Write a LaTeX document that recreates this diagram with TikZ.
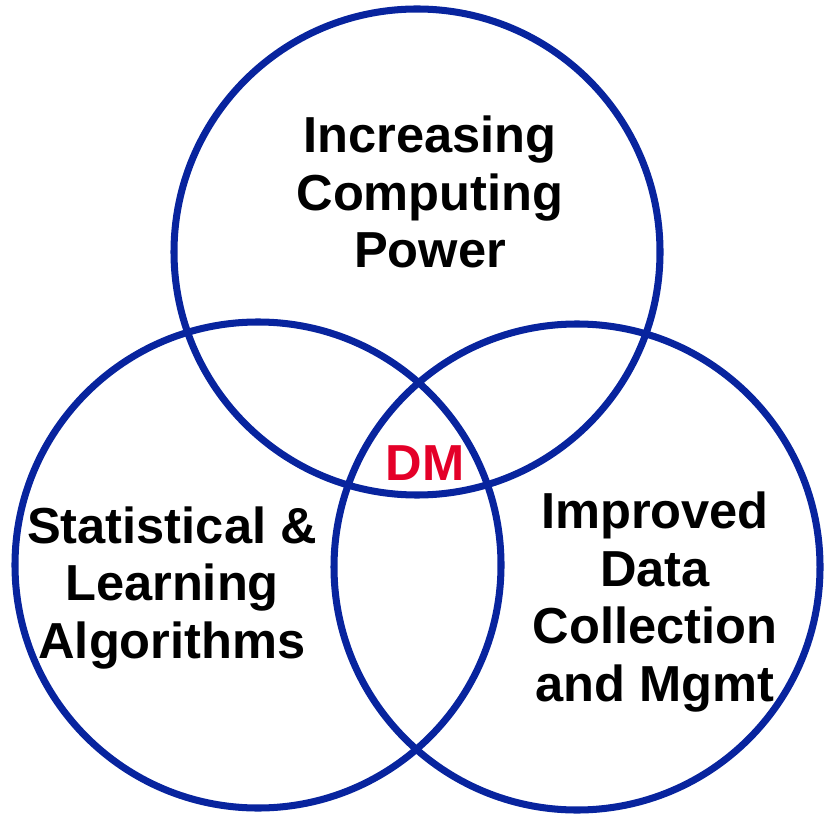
\documentclass[tikz,border=0pt]{standalone}
\usepackage{fontspec}
\setmainfont{Liberation Sans}
\definecolor{bleuvenn}{RGB}{8,36,158}
\definecolor{rougedm}{RGB}{228,0,40}

\begin{document}
\begin{tikzpicture}
	\tikzset{cercle/.style={circle, draw=bleuvenn, line width=4pt, inner sep=0, minimum size=9.72cm},
		texte/.style={align=center, font=\fontsize{28.8}{32.8}\selectfont\bfseries, inner sep=0}};

	\useasboundingbox (0,0) rectangle (16.64,-16.38);

	\node[cercle] (haut)   at ( 8.34,  -5.04) {};
	\node[cercle] (gauche) at ( 5.16, -11.30) {};
	\node[cercle] (droite) at (11.54, -11.34) {};

	\node[texte] (puissance) at ( 8.60,  -3.84) {Increasing\\Computing\\Power};
	\node[texte] (algos)     at ( 3.44, -11.76) {Statistical \&\\Learning\\Algorithms};
	\node[texte] (donnees)   at (13.10, -12.04) {Improved\\Data\\Collection\\and Mgmt};
	\node[texte, rougedm] (dm) at ( 8.50,  -9.26) {DM};

\end{tikzpicture}
\end{document}
